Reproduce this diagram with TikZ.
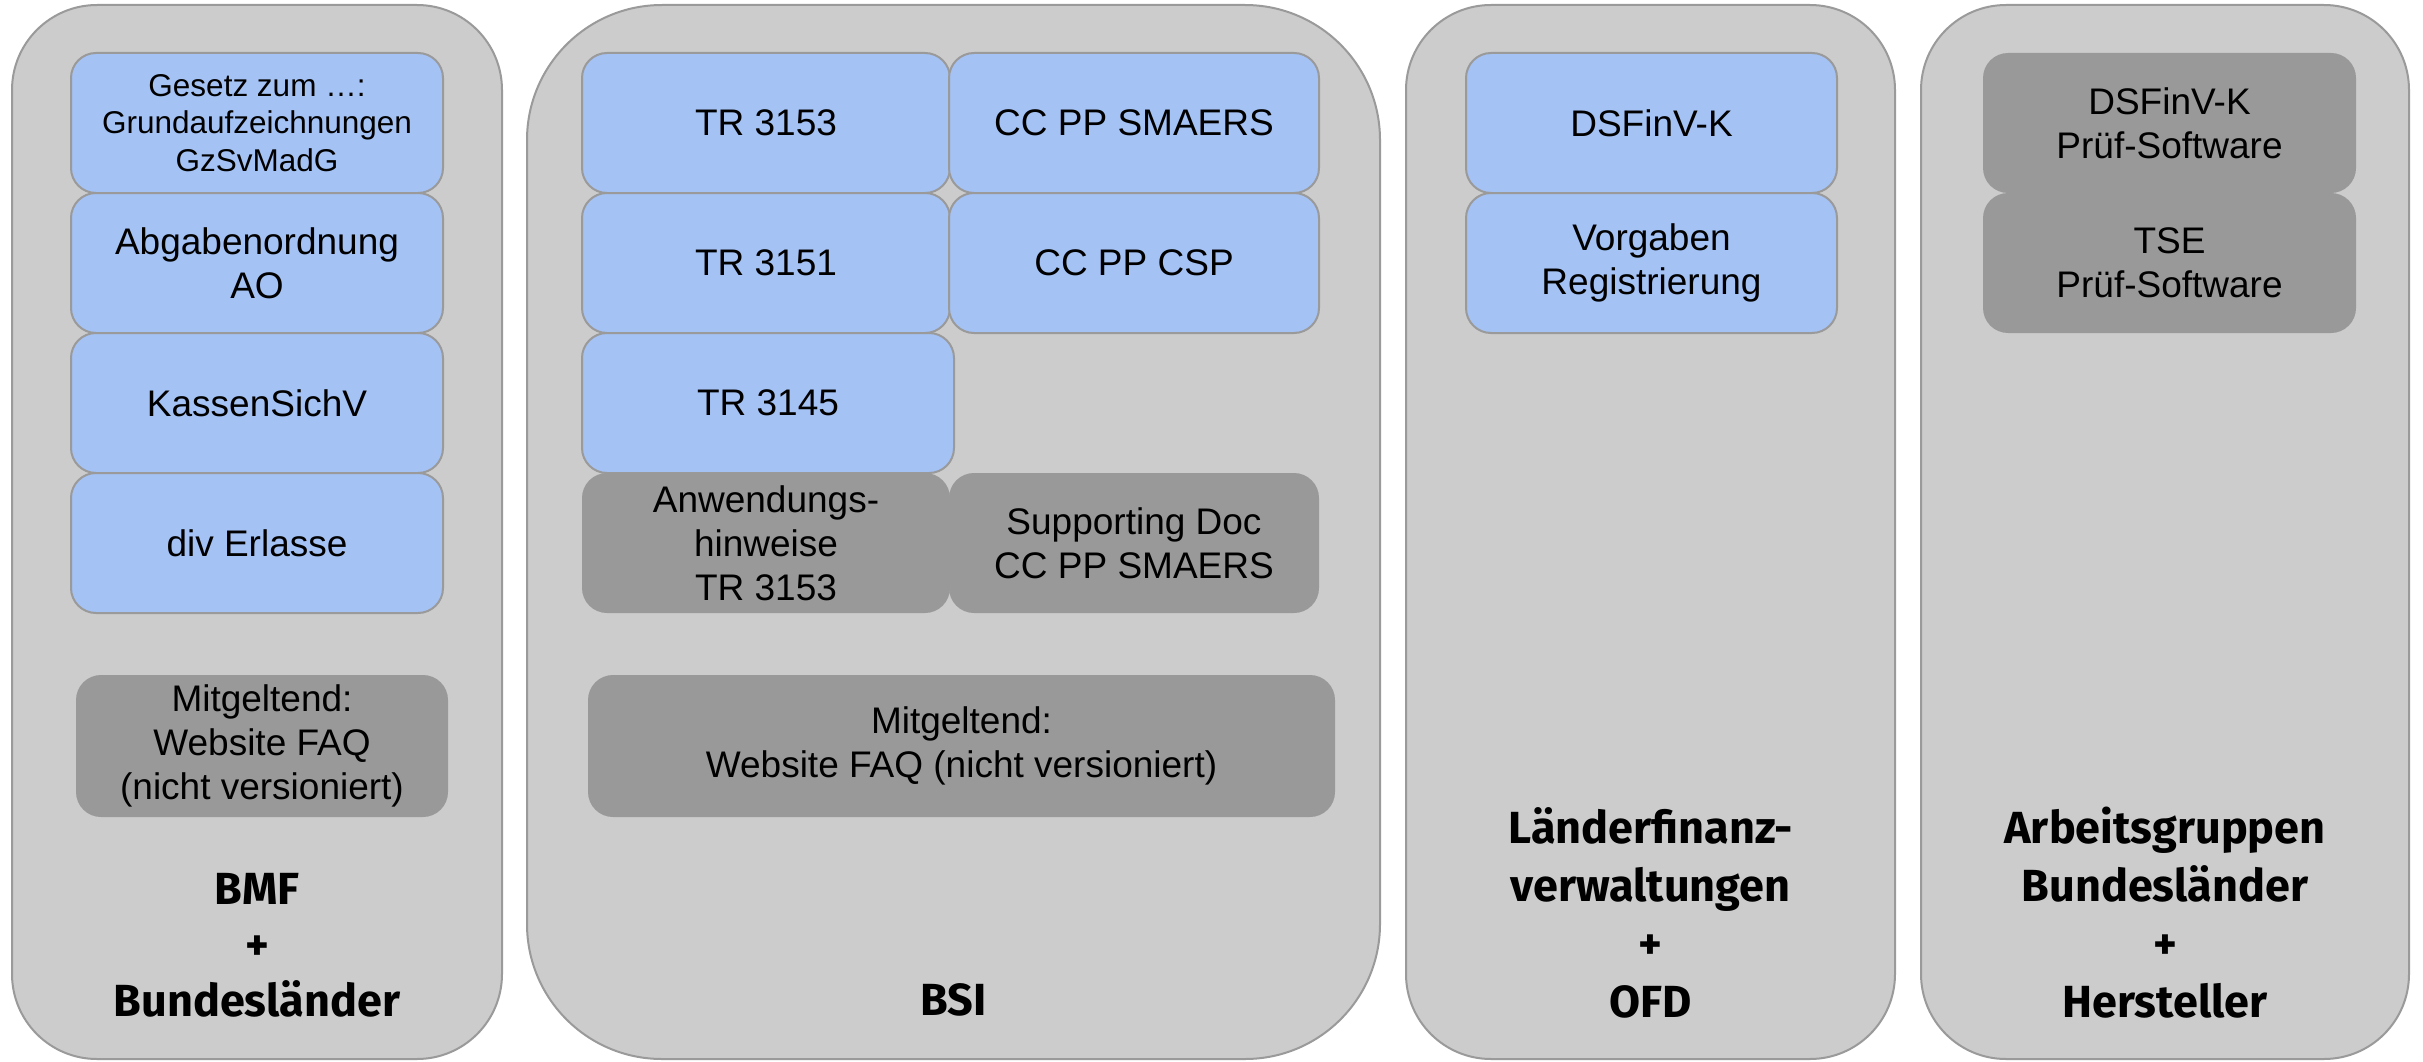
\documentclass[tikz,border=0pt]{standalone}
\usepackage{fontspec}
\setmainfont{Liberation Sans}
\newfontfamily\titlefont{Fira Sans}
\definecolor{panelfill}{HTML}{CCCCCC}
\definecolor{edgegray}{HTML}{9A9A9A}
\definecolor{bluefill}{HTML}{A4C2F4}
\definecolor{darkfill}{HTML}{999999}
\begin{document}
\begin{tikzpicture}[x=1pt,y=-1pt,
  panel/.style={draw=edgegray, fill=panelfill, line width=2pt, inner sep=0pt},
  bluebox/.style={draw=edgegray, fill=bluefill, line width=2pt, rounded corners=25pt, inner sep=0pt, align=center, font=\fontsize{37}{44}\selectfont},
  greybox/.style={fill=darkfill, rounded corners=25pt, inner sep=0pt, align=center, font=\fontsize{37}{44}\selectfont},
  title/.style={align=center, inner sep=0pt, font=\titlefont\bfseries\fontsize{45}{56}\selectfont},
  title4/.style={align=center, inner sep=0pt, font=\titlefont\bfseries\fontsize{45}{58}\selectfont}
]
\useasboundingbox (0,0) rectangle (2423,1062);
\fill[white] (0,0) rectangle (2423,1062);

% panels
\node[panel, rounded corners=85pt, minimum width=490pt, minimum height=1054pt] (p1) at (257,532) {};
\node[panel, rounded corners=135pt, minimum width=853pt, minimum height=1054pt] (p2) at (953.5,532) {};
\node[panel, rounded corners=85pt, minimum width=489pt, minimum height=1054pt] (p3) at (1650.5,532) {};
\node[panel, rounded corners=85pt, minimum width=488pt, minimum height=1054pt] (p4) at (2165,532) {};

% panel 1 (BMF)
\node[bluebox, minimum width=372pt, minimum height=140pt, font=\fontsize{31.5}{37.5}\selectfont] (gesetz) at (257,123) {Gesetz zum …:\\Grundaufzeichnungen\\GzSvMadG};
\node[bluebox, minimum width=372pt, minimum height=140pt] (ao) at (257,263) {Abgabenordnung\\AO};
\node[bluebox, minimum width=372pt, minimum height=140pt] (ksv) at (257,403) {KassenSichV};
\node[bluebox, minimum width=372pt, minimum height=140pt] (erl) at (257,543) {div Erlasse};
\node[greybox, minimum width=372pt, minimum height=142pt] (faq1) at (262,746) {Mitgeltend:\\Website FAQ\\(nicht versioniert)};
\node[title] (t1) at (257,945) {BMF\\+\\Bundesländer};

% panel 2 (BSI)
\node[bluebox, minimum width=368pt, minimum height=140pt] (tr3153) at (766,123) {TR 3153};
\node[bluebox, minimum width=368pt, minimum height=140pt] (tr3151) at (766,263) {TR 3151};
\node[bluebox, minimum width=372pt, minimum height=140pt] (tr3145) at (768,403) {TR 3145};
\node[bluebox, minimum width=370pt, minimum height=140pt] (smaers) at (1134,123) {CC PP SMAERS};
\node[bluebox, minimum width=370pt, minimum height=140pt] (csp) at (1134,263) {CC PP CSP};
\node[greybox, minimum width=368pt, minimum height=140pt] (anw) at (766,543) {Anwendungs-\\hinweise\\TR 3153};
\node[greybox, minimum width=370pt, minimum height=140pt] (supdoc) at (1134,543) {Supporting Doc\\CC PP SMAERS};
\node[greybox, minimum width=747pt, minimum height=142pt] (faq2) at (961.5,746) {Mitgeltend:\\Website FAQ (nicht versioniert)};
\node[title] (t2) at (953.5,1000) {BSI};

% panel 3 (Länderfinanzverwaltungen)
\node[bluebox, minimum width=371pt, minimum height=140pt] (dsfinv) at (1651.5,123) {DSFinV-K};
\node[bluebox, minimum width=371pt, minimum height=140pt] (reg) at (1651.5,263) {Vorgaben\\Registrierung};
\node[title4] (t3) at (1650.5,913) {Länderfinanz-\\verwaltungen\\+\\OFD};

% panel 4 (Arbeitsgruppen)
\node[greybox, minimum width=373pt, minimum height=140pt] (pruef1) at (2169.5,123) {DSFinV-K\\Prüf-Software};
\node[greybox, minimum width=373pt, minimum height=140pt] (pruef2) at (2169.5,263) {TSE\\Prüf-Software};
\node[title4] (t4) at (2165,913) {Arbeitsgruppen\\Bundesländer\\+\\Hersteller};
\end{tikzpicture}
\end{document}
